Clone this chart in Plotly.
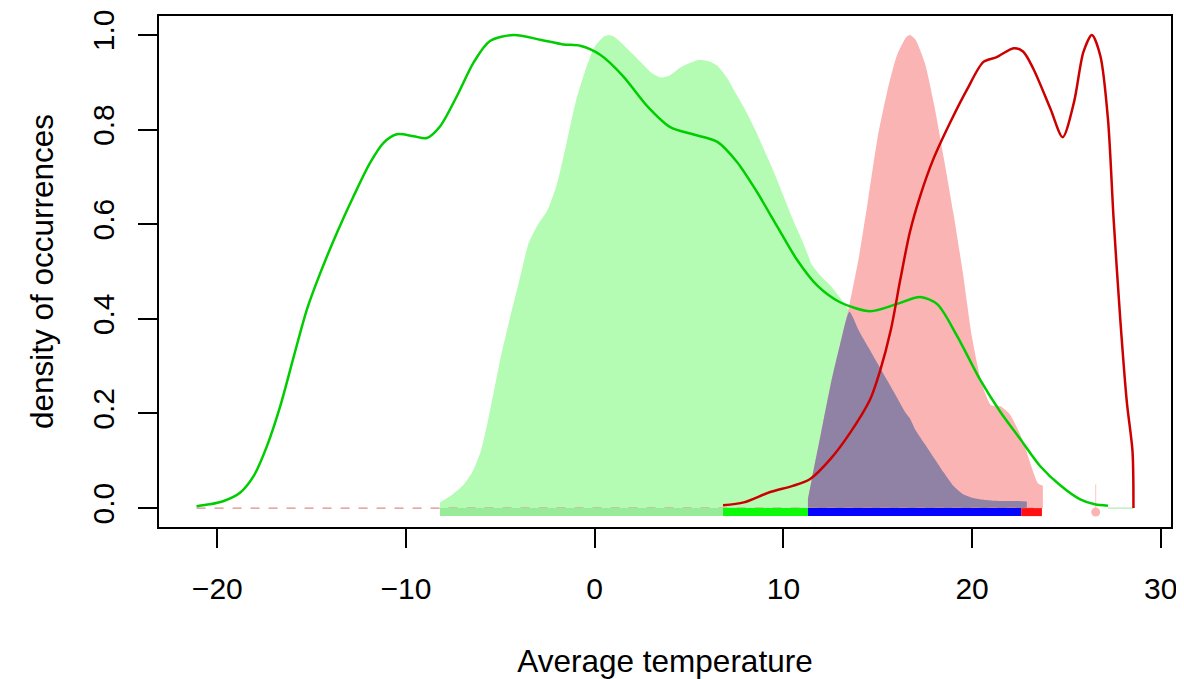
import plotly.graph_objects as go
import numpy as np

# shared x grid for the two filled densities
fill_x = [-8.2, -7.5, -7.0, -6.5, -6.0, -5.5, -5.0, -4.5, -4.0, -3.5, -3.0, -2.5, -2.0,
          -1.5, -1.0, -0.5, 0.0, 0.5, 0.75, 1.0, 1.5, 2.0, 2.5, 3.0, 3.5, 4.0, 4.5, 5.0,
          5.5, 6.0, 6.5, 7.0, 7.5, 8.0, 8.5, 9.0, 9.5, 10.0, 10.5, 11.0, 11.3, 11.5,
          12.0, 12.5, 13.0, 13.5, 14.0, 14.5, 15.0, 15.5, 16.0, 16.5, 16.7, 17.0, 17.5,
          18.0, 18.5, 19.0, 19.5, 20.0, 20.5, 21.0, 21.5, 22.0, 22.5, 22.9, 23.0, 23.5,
          23.75]

# green filled density (None = outside its range)
green_fill = [0.012, 0.03, 0.047, 0.075, 0.125, 0.215, 0.315, 0.40, 0.48, 0.56, 0.60,
              0.63, 0.685, 0.77, 0.86, 0.925, 0.975, 0.997, 1.0, 0.997, 0.98, 0.96, 0.94,
              0.92, 0.91, 0.915, 0.93, 0.94, 0.947, 0.945, 0.935, 0.91, 0.875, 0.84, 0.80,
              0.755, 0.71, 0.66, 0.61, 0.565, 0.535, 0.515, 0.49, 0.47, 0.445, 0.415,
              0.375, 0.34, 0.305, 0.27, 0.235, 0.20, 0.19, 0.165, 0.135, 0.105, 0.075,
              0.047, 0.03, 0.022, 0.018, 0.016, 0.015, 0.015, 0.015, 0.014, None, None,
              None]

# pink filled density
pink_fill = [None] * 40 + [0.02, 0.06, 0.16, 0.26, 0.345, 0.43, 0.53, 0.655, 0.785,
                           0.88, 0.955, 0.995, 1.0, 0.99, 0.94, 0.85, 0.74, 0.625, 0.50,
                           0.36, 0.265, 0.218, 0.215, 0.198, 0.16, 0.118, 0.105, 0.052,
                           0.047]

# green density line
green_x = [-21.1, -20.4, -19.66, -18.78, -18.07, -17.37, -16.66, -15.95, -15.25, -14.54,
           -13.66, -12.78, -11.9, -11.19, -10.48, -9.6, -8.9, -8.19, -7.3, -6.4, -5.55,
           -4.3, -2.9, -1.67, -0.77, 0.29, 1.5, 2.77, 4.0, 5.2, 6.5, 7.55, 8.6, 9.66,
           10.7, 11.8, 13.0, 14.6, 16.0, 17.25, 18.15, 19.2, 20.4, 21.5, 22.55, 23.6,
           24.7, 25.7, 26.5, 27.2]
green_y = [0.004, 0.008, 0.015, 0.033, 0.068, 0.131, 0.216, 0.32, 0.42, 0.497, 0.582,
           0.659, 0.73, 0.772, 0.79, 0.786, 0.782, 0.807, 0.871, 0.943, 0.987, 1.0, 0.99,
           0.98, 0.977, 0.958, 0.913, 0.85, 0.805, 0.79, 0.774, 0.731, 0.668, 0.596,
           0.526, 0.47, 0.435, 0.416, 0.431, 0.446, 0.431, 0.364, 0.273, 0.203, 0.146,
           0.089, 0.047, 0.019, 0.008, 0.005]

# red density line
red_x = [6.8, 7.9, 9.3, 10.5, 11.4, 12.5, 13.55, 14.6, 15.1, 15.7, 16.2, 16.7, 17.25,
         17.95, 18.85, 19.75, 20.6, 21.3, 22.2, 22.7, 23.25, 24.15, 24.8, 25.4, 25.9,
         26.35, 26.8, 27.2, 27.5, 27.85, 28.2, 28.5, 28.55]
red_y = [0.006, 0.012, 0.034, 0.047, 0.061, 0.104, 0.16, 0.23, 0.287, 0.378, 0.484,
         0.583, 0.66, 0.738, 0.816, 0.886, 0.943, 0.953, 0.972, 0.965, 0.928, 0.844,
         0.784, 0.858, 0.964, 1.0, 0.955, 0.822, 0.61, 0.4, 0.224, 0.12, 0.0]

# rug bands along the bottom: start, end, colour
rug_start = [-8.2, 6.8, 11.3, 22.6]
rug_end = [6.8, 11.3, 22.6, 23.7]
rug_colors = ['rgb(152,235,152)', 'rgb(10,250,10)', 'rgb(5,5,255)', 'rgb(255,15,15)']
outlier_x = 26.55

x_ticks = [-20, -10, 0, 10, 20, 30]
y_ticks = [0.0, 0.2, 0.4, 0.6, 0.8, 1.0]
y_ticklabels = ['0.0', '0.2', '0.4', '0.6', '0.8', '1.0']

fx = np.array(fill_x)
g = np.array([np.nan if v is None else v for v in green_fill])
p = np.array([np.nan if v is None else v for v in pink_fill])
g_ok = ~np.isnan(g)
p_ok = ~np.isnan(p)
both = g_ok & p_ok

fig = go.Figure()

fig.add_trace(go.Scatter(x=fx[g_ok], y=g[g_ok], mode='lines', fill='tozeroy',
                         line=dict(width=0, shape='spline', smoothing=0.6),
                         fillcolor='rgb(180,252,180)'))
fig.add_trace(go.Scatter(x=fx[p_ok], y=p[p_ok], mode='lines', fill='tozeroy',
                         line=dict(width=0, shape='spline', smoothing=0.6),
                         fillcolor='rgb(251,180,180)'))
fig.add_trace(go.Scatter(x=fx[both], y=np.minimum(g[both], p[both]), mode='lines',
                         fill='tozeroy', line=dict(width=0, shape='spline', smoothing=0.6),
                         fillcolor='rgb(143,130,164)'))

# baselines
fig.add_trace(go.Scatter(x=[green_x[0], fill_x[-1]], y=[0, 0], mode='lines',
                         line=dict(color='rgb(220,140,140)', width=1.3, dash='dash')))
fig.add_trace(go.Scatter(x=[green_x[-1], red_x[-1]], y=[0, 0], mode='lines',
                         line=dict(color='rgb(160,230,160)', width=1)))
fig.add_trace(go.Scatter(x=[outlier_x, outlier_x], y=[0, 0.05], mode='lines',
                         line=dict(color='rgb(251,200,200)', width=1)))

# rug
for s, e, c in zip(rug_start, rug_end, rug_colors):
    fig.add_trace(go.Scatter(x=[s, e], y=[-0.0085, -0.0085], mode='lines',
                             line=dict(color=c, width=8)))
fig.add_trace(go.Scatter(x=[outlier_x], y=[-0.0085], mode='markers',
                         marker=dict(color='rgb(251,180,180)', size=9)))

fig.add_trace(go.Scatter(x=green_x, y=green_y, mode='lines',
                         line=dict(color='rgb(0,205,0)', width=2.5, shape='spline',
                                   smoothing=0.8)))
fig.add_trace(go.Scatter(x=red_x, y=red_y, mode='lines',
                         line=dict(color='rgb(205,0,0)', width=2.5, shape='spline',
                                   smoothing=0.8)))

axis_style = dict(showline=True, linecolor='black', linewidth=1.5, mirror=True,
                  ticks='outside', ticklen=19, tickwidth=1.5, tickcolor='black',
                  showgrid=False, zeroline=False, automargin=False,
                  tickfont=dict(family='Liberation Sans, Arial', size=30, color='black'))

# page body has an 8px margin, so the figure is 8px smaller on each side
fig.update_layout(
    width=1176, height=671,
    margin=dict(l=151, r=13, t=8, b=152),
    plot_bgcolor='white', paper_bgcolor='white',
    showlegend=False,
    font=dict(family='Liberation Sans, Arial', size=30, color='black'),
    xaxis=dict(range=[-23.09, 30.54], tickvals=x_ticks, ticklabelstandoff=15,
               title=dict(text='Average temperature', standoff=50,
                          font=dict(size=31.5)), **axis_style),
    yaxis=dict(range=[-0.04, 1.04], tickvals=y_ticks, ticktext=y_ticklabels,
               tickangle=-90, ticklabelstandoff=12,
               title=dict(text='density of occurrences', standoff=24,
                          font=dict(size=31.5)), **axis_style),
)

fig.write_html('out.html')
